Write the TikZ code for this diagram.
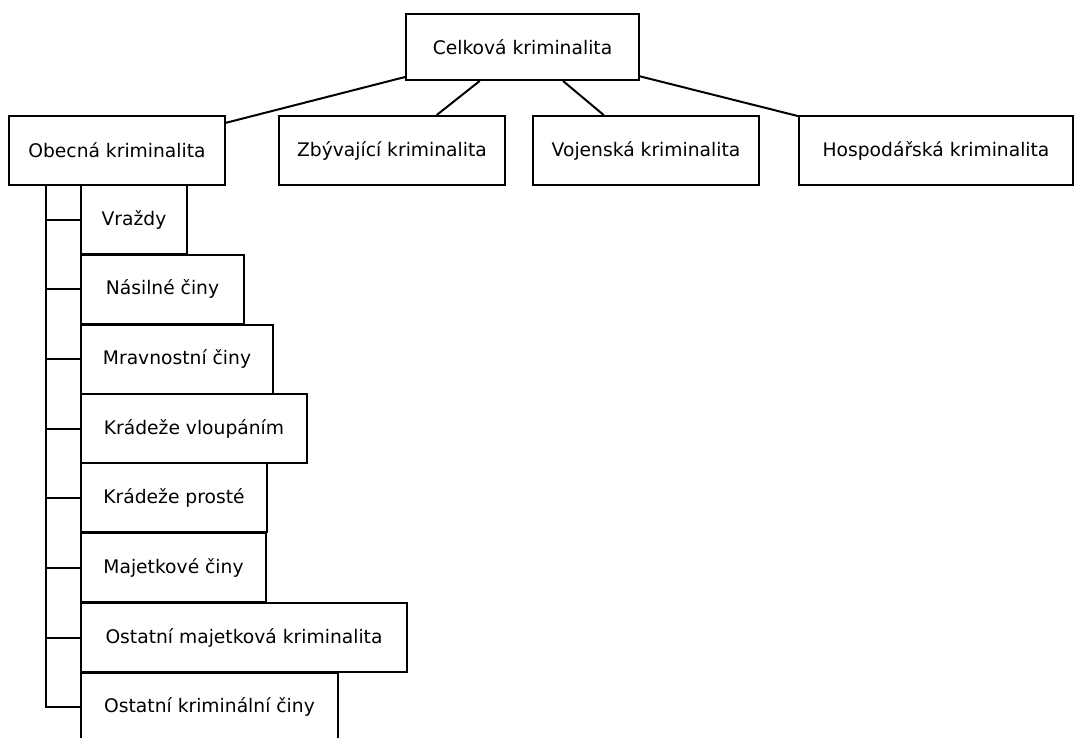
\documentclass[tikz,border=0pt]{standalone}
\usepackage{fontspec}
\setmainfont{DejaVu Sans}

\begin{document}
\begin{tikzpicture}[x=1pt, y=-1pt, line width=2pt]
    \clip (0,0) rectangle (1075,738);
    \begin{scope}[every node/.style={rectangle,draw,line width=2pt,inner sep=0pt,minimum height=69pt,font=\fontsize{18.7}{22}\selectfont}]
        \node[minimum width=233pt, minimum height=66pt](C) at (522.5,47) {Celková kriminalita};
        \node[minimum width=216pt](O) at (117,150.5) {Obecná kriminalita};
        \node[minimum width=226pt](Z) at (392,150.5) {Zbývající kriminalita};
        \node[minimum width=226pt](V) at (646,150.5) {Vojenská kriminalita};
        \node[minimum width=274pt](H) at (936,150.5) {Hospodářská kriminalita};
        \node[anchor=west, minimum width=106pt](o1) at (80,219.5) {Vraždy};
        \node[anchor=west, minimum width=163pt](o2) at (80,289) {Násilné činy};
        \node[anchor=west, minimum width=192pt](o3) at (80,359) {Mravnostní činy};
        \node[anchor=west, minimum width=226pt](o4) at (80,428.5) {Krádeže vloupáním};
        \node[anchor=west, minimum width=186pt](o5) at (80,497.5) {Krádeže prosté};
        \node[anchor=west, minimum width=185pt](o6) at (80,567.5) {Majetkové činy};
        \node[anchor=west, minimum width=326pt](o7) at (80,637.5) {Ostatní majetková kriminalita};
        \node[anchor=west, minimum width=257pt](o8) at (80,707) {Ostatní kriminální činy};
    \end{scope}
    \draw (C) -- (O);
    \draw (C) -- (Z);
    \draw (C) -- (V);
    \draw (C) -- (H);
    \coordinate (trunk) at (46,185);
    \draw (trunk) |- (o1.west);
    \draw (trunk) |- (o2.west);
    \draw (trunk) |- (o3.west);
    \draw (trunk) |- (o4.west);
    \draw (trunk) |- (o5.west);
    \draw (trunk) |- (o6.west);
    \draw (trunk) |- (o7.west);
    \draw (trunk) |- (o8.west);
\end{tikzpicture}
\end{document}
